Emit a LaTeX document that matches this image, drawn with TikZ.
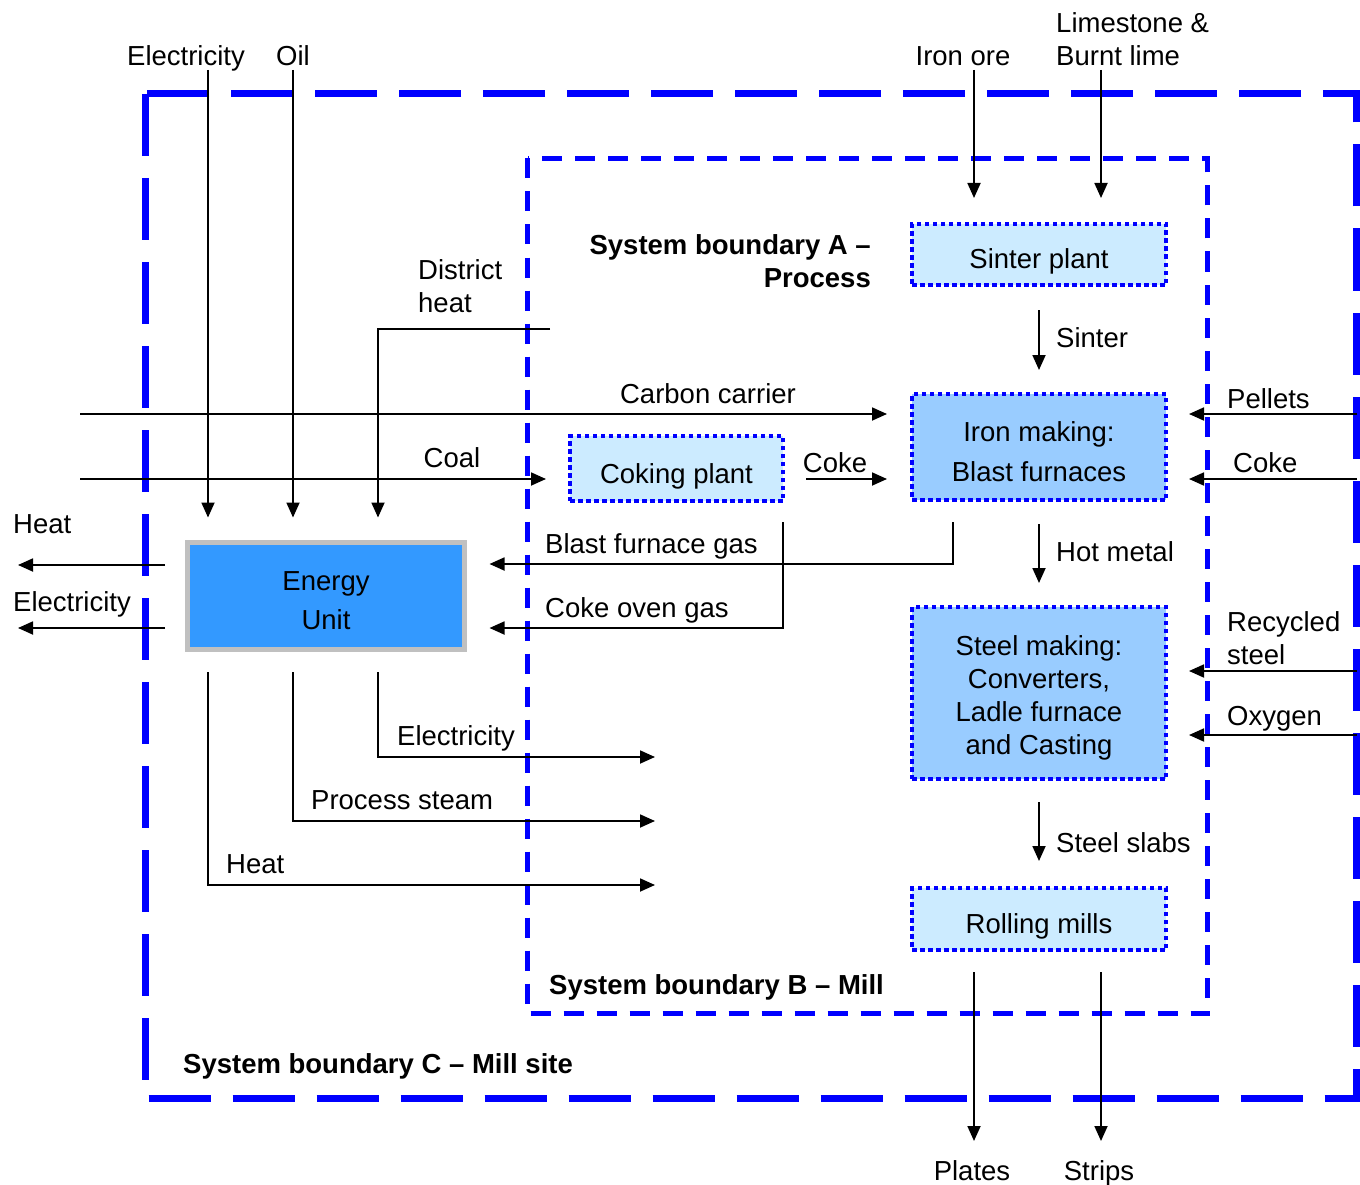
\documentclass[tikz,border=0pt]{standalone}
\usepackage{fontspec}
\setmainfont{Liberation Sans}
\usetikzlibrary{arrows.meta,positioning,calc}
\definecolor{Boundary}{HTML}{0000FF}
\definecolor{LightBox}{HTML}{CCEBFF}
\definecolor{MidBox}{HTML}{99CCFF}
\definecolor{EnergyFill}{HTML}{3399FF}
\definecolor{Frame}{HTML}{C0C0C0}
\newcommand{\topstrut}{\rule{0pt}{29pt}}
\tikzset{
 block/.style={draw=Boundary, line width=4pt, dash pattern=on 4.5pt off 3.5pt, minimum width=254pt, align=center, inner sep=0pt},
 lightblock/.style={block, fill=LightBox, text height=29pt, text depth=0pt},
 midblock/.style={block, fill=MidBox},
 energyblock/.style={draw=Frame, line width=5pt, fill=EnergyFill, minimum width=277pt, minimum height=107pt, align=center, inner sep=0pt},
 boundC/.style={draw=Boundary, line width=7pt, dash pattern=on 62pt off 22pt},
 boundB/.style={draw=Boundary, line width=4.5pt, dash pattern=on 20pt off 13pt},
 flow/.style={-{Triangle[length=15pt,width=13pt]}, line width=1.8pt, draw=black},
 lbl/.style={inner sep=0pt, text height=20pt, text depth=0pt},
 lbltwo/.style={inner sep=0pt},
 boldfont/.style={font={\fontsize{27.5}{33}\selectfont\bfseries}},
 boldlbl/.style={lbl, boldfont}
}
\begin{document}
\begin{tikzpicture}[x=1pt,y=-1pt,font=\fontsize{27.5}{33}\selectfont]
\useasboundingbox (0,0) rectangle (1360,1185);
% system boundaries
\draw[boundC] (145,94) rectangle (1356.5,1098.5);
\draw[boundB] (527.5,158.5) rectangle (1207.5,1013.5);

% process units
\node[lightblock, minimum height=61pt] (sinter) at (1039,254.5) {Sinter plant};
\node[midblock, minimum height=106pt] (iron) at (1039,447) {\topstrut Iron making:\\[7pt]Blast furnaces};
\node[midblock, minimum height=172pt] (steel) at (1039,693) {\topstrut Steel making:\\Converters,\\Ladle furnace\\and Casting};
\node[lightblock, minimum height=62pt] (rolling) at (1039,919) {Rolling mills};
\node[lightblock, minimum width=213pt, minimum height=65pt] (coking) at (676.5,468.5) {Coking plant};
\node[energyblock] (energy) at (326,596) {\topstrut Energy\\[6pt]Unit};

% free ends
\coordinate (elin) at (208,70);
\coordinate (oilin) at (293,70);
\coordinate (dhin) at (550,329);
\coordinate (dhbend) at (378,329);
\coordinate (orein) at (974,70);
\coordinate (limein) at (1101,70);
\coordinate (ccin) at (80,414);
\coordinate (coalin) at (80,479);
\coordinate (pelin) at (1357,414);
\coordinate (cokein) at (1357,479);
\coordinate (recin) at (1357,671);
\coordinate (oxin) at (1357,735);
\coordinate (heatout) at (18,565);
\coordinate (elout) at (18,628);
\coordinate (bfgout) at (953,522);
\coordinate (cogout) at (783,522);
\coordinate (elsup) at (655,757);
\coordinate (steamsup) at (655,821);
\coordinate (heatsup) at (655,885);
\coordinate (platesout) at (974,1141);
\coordinate (stripsout) at (1101,1141);

% inputs from outside
\draw[flow,shorten >=22.5pt] (elin) -- (elin |- energy.north);
\draw[flow,shorten >=22.5pt] (oilin) -- (oilin |- energy.north);
\draw[flow,shorten >=22.5pt] (dhin) -- (dhbend) -- (dhbend |- energy.north);
\draw[flow,shorten >=24pt] (orein) -- (orein |- sinter.north);
\draw[flow,shorten >=24pt] (limein) -- (limein |- sinter.north);
\draw[flow,shorten >=23pt] (ccin) -- (ccin -| iron.west);
\draw[flow,shorten >=22pt] (coalin) -- (coalin -| coking.west);
\draw[flow,shorten <=21pt,shorten >=23pt] (coalin -| coking.east) -- (coalin -| iron.west);
\draw[flow,shorten >=21pt] (pelin) -- (pelin -| iron.east);
\draw[flow,shorten >=21pt] (cokein) -- (cokein -| iron.east);
\draw[flow,shorten >=21pt] (recin) -- (recin -| steel.east);
\draw[flow,shorten >=21pt] (oxin) -- (oxin -| steel.east);

% process chain
\draw[flow,shorten <=23pt,shorten >=22pt] (sinter) -- (iron);
\draw[flow,shorten <=22pt,shorten >=22pt] (iron) -- (steel);
\draw[flow,shorten <=21pt,shorten >=25pt] (steel) -- (rolling);
\draw[flow,shorten <=20pt] (platesout |- rolling.south) -- (platesout);
\draw[flow,shorten <=20pt] (stripsout |- rolling.south) -- (stripsout);

% gases back to energy unit
\draw[flow,shorten >=22.5pt] (bfgout) |- ([yshift=32pt]energy.east);
\draw[flow,shorten >=22.5pt] (cogout) |- ([yshift=-32pt]energy.east);

% energy unit outputs
\draw[flow,shorten <=20pt] (heatout -| energy.west) -- (heatout);
\draw[flow,shorten <=20pt] (elout -| energy.west) -- (elout);
\draw[flow,shorten <=20pt] ([xshift=52pt]energy.south) |- (elsup);
\draw[flow,shorten <=20pt] ([xshift=-33pt]energy.south) |- (steamsup);
\draw[flow,shorten <=20pt] ([xshift=-118pt]energy.south) |- (heatsup);

% labels
\node[lbl] (elinlbl) at (186,56) {Electricity};
\node[lbl] (oillbl) at (293,56) {Oil};
\node[lbl] (orelbl) at (963,56) {Iron ore};
\node[lbltwo, anchor=west, align=left] (limelbl) at (1056,39) {Limestone \&\\Burnt lime};
\node[lbltwo, anchor=west, align=left] (dhlbl) at (418,286.5) {District\\heat};
\node[lbltwo, anchor=east, align=right, boldfont] (bndA) at (871,261) {System boundary A --\\Process};
\node[lbl] (cclbl) at (708,393) {Carbon carrier};
\node[lbl] (coallbl) at (452,457) {Coal};
\node[lbl] (cokelbl) at (835,462) {Coke};
\node[lbl, anchor=west] (sinterlbl) at (1056,337) {Sinter};
\node[lbl, anchor=west] (hotlbl) at (1056,551) {Hot metal};
\node[lbl, anchor=west] (slablbl) at (1056,842) {Steel slabs};
\node[lbl, anchor=west] (pellbl) at (1227,398) {Pellets};
\node[lbl, anchor=west] (cokeinlbl) at (1233,462) {Coke};
\node[lbltwo, anchor=west, align=left] (reclbl) at (1227,638.5) {Recycled\\steel};
\node[lbl, anchor=west] (oxlbl) at (1227,715) {Oxygen};
\node[lbl, anchor=west] (bfglbl) at (545,543) {Blast furnace gas};
\node[lbl, anchor=west] (coglbl) at (545,607) {Coke oven gas};
\node[lbl, anchor=west] (heatoutlbl) at (13,523) {Heat};
\node[lbl, anchor=west] (eloutlbl) at (13,601) {Electricity};
\node[lbl, anchor=west] (elsuplbl) at (397,735) {Electricity};
\node[lbl, anchor=west] (steamlbl) at (311,799) {Process steam};
\node[lbl, anchor=west] (heatsuplbl) at (226,863) {Heat};
\node[boldlbl, anchor=west] (bndB) at (549,984) {System boundary B -- Mill};
\node[boldlbl, anchor=west] (bndC) at (183,1063) {System boundary C -- Mill site};
\node[lbl] (plateslbl) at (972,1170) {Plates};
\node[lbl] (stripslbl) at (1099,1170) {Strips};
\end{tikzpicture}
\end{document}
